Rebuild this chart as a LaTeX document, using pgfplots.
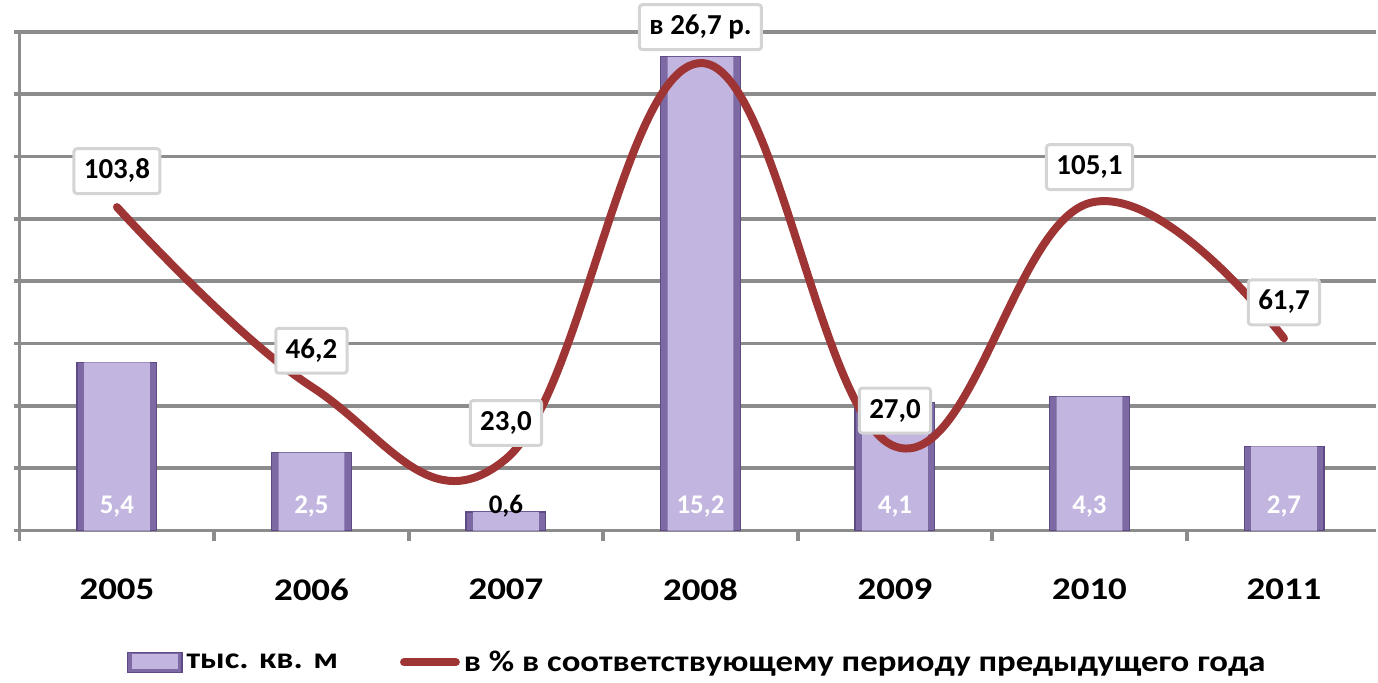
\documentclass[border=0pt]{standalone}
\usepackage{fontspec}
\setmainfont{Carlito}
\newfontfamily\widefont{Carlito}[FakeStretch=1.17]
\usepackage{pgfplots}
\pgfplotsset{compat=1.18}
\definecolor{gridgray}{HTML}{8C8C8C}
\definecolor{barlight}{HTML}{C2B6E0}
\definecolor{bardark}{HTML}{7D69A3}
\definecolor{barline}{HTML}{5E4B86}
\definecolor{linered}{HTML}{9E3434}
\definecolor{boxgray}{HTML}{D4D4D4}
\pgfplotsset{
  barleg/.style={legend image code/.code={
    \draw[##1,fill=bardark] (0pt,-5pt) rectangle (27.5pt,5pt);
    \fill[barlight] (2.5pt,-3pt) rectangle (25pt,4pt);}},
  lineleg/.style={legend image code/.code={\draw[##1] (0pt,0pt) -- (26pt,0pt);}},
}

\begin{document}
\begin{tikzpicture}
\begin{axis}[
  scale only axis, width=680pt, height=250pt,
  xmin=-0.5, xmax=6.474, ymin=0, ymax=16,
  ytick={0,2,...,16}, yticklabel=\empty,
  xtick={0,...,6},
  xticklabels={2005,2006,2007,2008,2009,2010,2011},
  minor xtick={-0.5,0.5,...,5.5},
  ymajorgrids, grid style={gridgray, line width=1.8pt},
  axis x line*=bottom, axis y line*=left,
  axis line style={gridgray, line width=1.8pt, -},
  tick style={gridgray, line width=1.8pt},
  tick align=outside,
  major tick length=3pt,
  major x tick style={draw=none},
  minor tick length=5pt,
  xticklabel style={font=\widefont\bfseries\fontsize{15.8}{19}\selectfont, yshift=-17.5pt},
  clip=false,
  legend columns=2,
  legend style={draw=none, fill=none, at={(0.5,0)}, anchor=center, yshift=-66pt,
    font=\widefont\bfseries\fontsize{14.9}{18}\selectfont,
    /tikz/every even column/.append style={column sep=29pt}},
]
\addplot[ybar, bar shift=0pt, bar width=40pt, draw=barline, line width=0.6pt,
  fill=bardark, barleg]
  coordinates {(0,5.4) (1,2.5) (2,0.6) (3,15.2) (4,4.1) (5,4.3) (6,2.7)};
\addlegendentry{тыс. кв. м}
\addlegendimage{linered, line width=4pt, line cap=round, lineleg}
\addlegendentry{в \% в соответствующему периоду предыдущего года}
% lighter face of the bevelled bars
\addplot[ybar, bar shift=0pt, bar width=33pt, draw=none, fill=barlight, forget plot]
  coordinates {(0,5.4) (1,2.5) (2,0.6) (3,15.2) (4,4.1) (5,4.3) (6,2.7)};

% bar value labels near the base
\addplot[draw=none, mark=none, forget plot, nodes near coords,
  point meta=explicit symbolic,
  every node near coord/.append style={anchor=center, yshift=12pt, text=white,
    font=\bfseries\fontsize{13.5}{16}\selectfont}]
  coordinates {(0,0)[5,4] (1,0)[2,5] (3,0)[15,2] (4,0)[4,1] (5,0)[4,3] (6,0)[2,7]};
\addplot[draw=none, mark=none, forget plot, nodes near coords,
  point meta=explicit symbolic,
  every node near coord/.append style={anchor=center, yshift=12.5pt, text=black,
    font=\bfseries\fontsize{13.5}{16}\selectfont}]
  coordinates {(2,0)[0,6]};
\end{axis}

\begin{axis}[
  scale only axis, width=680pt, height=250pt,
  xmin=-0.5, xmax=6.474, ymin=0, ymax=160,
  hide axis, clip=false,
]
\addplot[linered, line width=4pt, smooth, tension=0.7, line cap=round,
  nodes near coords, point meta=explicit symbolic,
  every node near coord/.append style={anchor=south, yshift=6pt, fill=white,
    draw=boxgray, line width=1.5pt, rounded corners=1.5pt,
    inner xsep=5pt, inner ysep=5.5pt, text height=9.5pt, text depth=2pt,
    text=black, font=\bfseries\fontsize{14.5}{17}\selectfont}]
  coordinates {(0,103.8)[103,8] (1,46.2)[46,2] (2,23.0)[23,0] (3,150)[в 26,7 р.]
               (4,27.0)[27,0] (5,105.1)[105,1] (6,61.7)[61,7]};
\end{axis}
\path (-9pt,-76pt) rectangle (680pt,266pt);
\end{tikzpicture}
\end{document}
